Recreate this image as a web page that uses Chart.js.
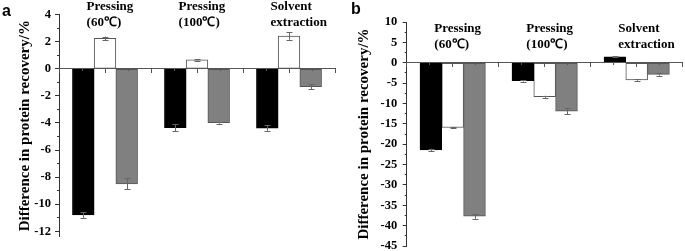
<!DOCTYPE html>
<html>
<head>
<meta charset="utf-8">
<script src="https://cdn.jsdelivr.net/npm/chart.js@4.4.1/dist/chart.umd.min.js"></script>
<style>
  html, body { margin: 0; padding: 0; background: #fff; }
  #wrap { position: relative; width: 685px; height: 251px; overflow: hidden; }
  .panel { position: absolute; top: 0; }
  .tag { position: absolute; font: 700 16px "Liberation Sans", Arial, sans-serif; line-height: 16px; color: #000; }
</style>
</head>
<body>
<div id="wrap">
  <div class="panel" style="left:0"><canvas id="chartA" width="340" height="251"></canvas></div>
  <div class="panel" style="left:340px"><canvas id="chartB" width="345" height="251"></canvas></div>
  <div class="tag" style="left:2px;top:3px">a</div>
  <div class="tag" style="left:351px;top:1px">b</div>
</div>
<script>
// Protein recovery differences, three processing methods, three bars each.
// Panel a and panel b share the group layout.
const groupX = [1, 3, 5];
const groupLabelX = [0.6, 2.6, 4.6];
const groupLines = [['Pressing', '(60\u2103)'], ['Pressing', '(100\u2103)'], ['Solvent', 'extraction']];
const yTitle = 'Difference in protein recovery/%';

const aBlack = [-10.8, -4.35, -4.38];
const aBlackErr = [0.2, 0.25, 0.2];
const aWhite = [2.25, 0.66, 2.42];
const aWhiteErr = [0.13, 0.05, 0.27];
const aGray = [-8.5, -3.97, -1.32];
const aGrayErr = [0.4, 0.08, 0.2];

const bBlack = [-21.4, -4.43, 1.45];
const bBlackErr = [0.3, 0.2, 0.15];
const bWhite = [-15.9, -8.35, -4.25];
const bWhiteErr = [0.1, 0.25, 0.15];
const bGray = [-37.7, -11.9, -2.85];
const bGrayErr = [0.6, 0.8, 0.3];

const serif = '"Liberation Serif", "Times New Roman", serif';
const axisColor = '#333';

// error bars at the end of every bar
const errorBars = {
  id: 'errorBars',
  afterDatasetsDraw(chart) {
    const { ctx } = chart;
    const y = chart.scales.y;
    ctx.save();
    ctx.strokeStyle = '#666';
    ctx.lineWidth = 1;
    chart.data.datasets.forEach((ds, di) => {
      const meta = chart.getDatasetMeta(di);
      meta.data.forEach((bar, i) => {
        const v = ds.data[i].y;
        const e = ds.errors[i];
        const top = y.getPixelForValue(v + e);
        const bot = y.getPixelForValue(v - e);
        const x = Math.round(bar.x) + 0.5;
        ctx.beginPath();
        ctx.moveTo(x, top); ctx.lineTo(x, bot);
        ctx.moveTo(x - 3, Math.round(top) + 0.5); ctx.lineTo(x + 3, Math.round(top) + 0.5);
        ctx.moveTo(x - 3, Math.round(bot) + 0.5); ctx.lineTo(x + 3, Math.round(bot) + 0.5);
        ctx.stroke();
      });
    });
    ctx.restore();
  },
};

// two-line group captions inside the plot, left aligned on a data x
const groupCaptions = {
  id: 'groupCaptions',
  afterDraw(chart, args, opts) {
    const { ctx, chartArea } = chart;
    const x = chart.scales.x;
    ctx.save();
    ctx.font = '700 13px ' + serif;
    ctx.fillStyle = '#000';
    ctx.textAlign = 'left';
    ctx.textBaseline = 'middle';
    groupLines.forEach((lines, i) => {
      const px = x.getPixelForValue(groupLabelX[i]);
      lines.forEach((t, k) => ctx.fillText(t, px, chartArea.top + opts.top + k * opts.gap));
    });
    ctx.restore();
  },
};

function makeDataset(label, values, errors, fill, thickness) {
  return {
    label,
    data: groupX.map((x, i) => ({ x, y: values[i] })),
    errors,
    backgroundColor: fill,
    borderColor: fill === '#000000' ? '#000' : '#555',
    borderWidth: 1,
    borderSkipped: false,
    barThickness: thickness,
  };
}

function isMajor(v, step) {
  return Math.abs(v / step - Math.round(v / step)) < 1e-6;
}

function buildChart(canvas, cfg) {
  return new Chart(canvas.getContext('2d'), {
    type: 'bar',
    data: {
      datasets: [
        makeDataset('black', cfg.black, cfg.blackErr, '#000000', cfg.barWidth),
        makeDataset('white', cfg.white, cfg.whiteErr, '#ffffff', cfg.barWidth),
        makeDataset('gray', cfg.gray, cfg.grayErr, '#808080', cfg.barWidth),
      ],
    },
    options: {
      responsive: false,
      animation: false,
      events: [],
      layout: { padding: cfg.padding },
      scales: {
        x: {
          type: 'linear',
          position: { y: 0 },
          min: 0,
          max: 6,
          offset: false,
          ticks: { display: false, stepSize: 0.5 },
          grid: {
            offset: false,
            drawOnChartArea: false,
            tickLength: 4,
            tickColor: '#555',
            tickBorderDash: (c) => (c.tick && isMajor(c.tick.value, 1) ? [] : [2, 20]),
            z: 1,
          },
          border: { color: '#555', width: 1, z: 1 },
        },
        y: {
          type: 'linear',
          min: cfg.yMin,
          max: cfg.yMax,
          ticks: {
            stepSize: cfg.minorStep,
            includeBounds: false,
            autoSkip: false,
            padding: cfg.tickPad,
            color: '#000',
            font: { family: serif, size: 12.5, weight: 'bold' },
            callback: (v) => (isMajor(v, cfg.majorStep) ? String(Math.round(v)) : ''),
          },
          grid: {
            drawOnChartArea: false,
            tickLength: 4,
            tickColor: axisColor,
            tickBorderDash: (c) => (c.tick && isMajor(c.tick.value, cfg.majorStep) ? [] : [0, 2, 2, 20]),
          },
          border: { color: axisColor, width: 1 },
          title: {
            display: true,
            text: yTitle,
            color: '#000',
            font: { family: serif, size: 15, weight: 'bold' },
            padding: { top: 4, bottom: 0 },
          },
          afterFit: (s) => {
            s.width = cfg.axisWidth;
            s.paddingTop = 0;
            s.paddingBottom = 0;
          },
        },
      },
      plugins: {
        legend: { display: false },
        tooltip: { enabled: false },
        groupCaptions: cfg.captions,
      },
    },
    plugins: [errorBars, groupCaptions],
  });
}

buildChart(document.getElementById('chartA'), {
  black: aBlack, blackErr: aBlackErr,
  white: aWhite, whiteErr: aWhiteErr,
  gray: aGray, grayErr: aGrayErr,
  yMin: -12.4, yMax: 4, minorStep: 1, majorStep: 2,
  barWidth: 21.7, tickPad: 4, axisWidth: 47,
  padding: { left: 12, right: 5, top: 14.7, bottom: 14.3 },
  captions: { top: -7.7, gap: 16 },
});

buildChart(document.getElementById('chartB'), {
  black: bBlack, blackErr: bBlackErr,
  white: bWhite, whiteErr: bWhiteErr,
  gray: bGray, grayErr: bGrayErr,
  yMin: -45, yMax: 10, minorStep: 2.5, majorStep: 5,
  barWidth: 21.8, tickPad: 5.5, axisWidth: 55.7,
  padding: { left: 11, right: 2.3, top: 22, bottom: 5 },
  captions: { top: 7, gap: 16 },
});
</script>
</body>
</html>
